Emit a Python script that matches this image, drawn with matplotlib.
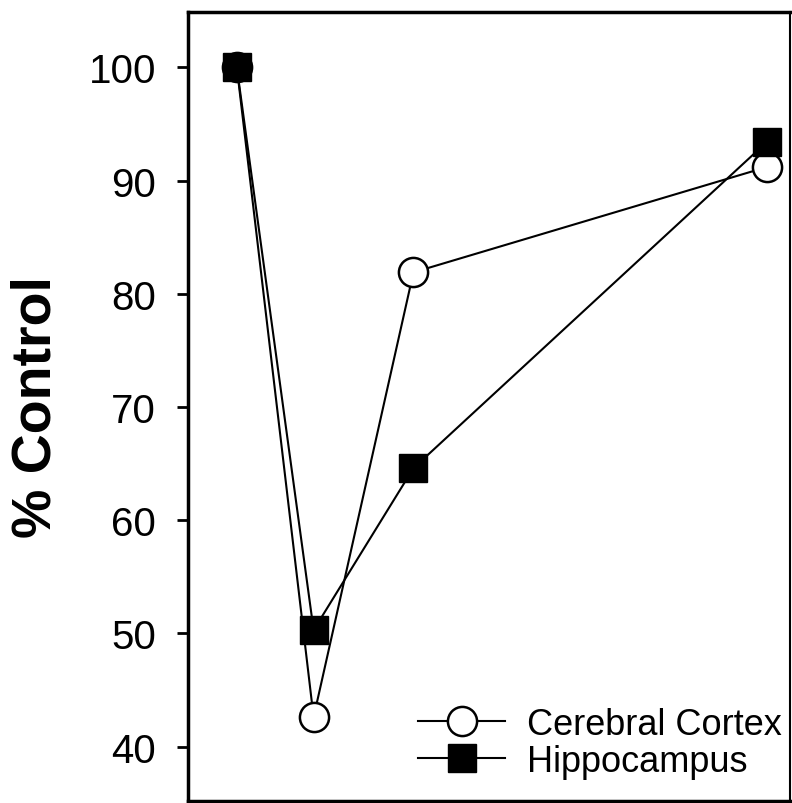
import matplotlib
matplotlib.use("Agg")
import matplotlib.pyplot as plt

time_points = [0, 1, 2.3, 6.9]
cortex = [100, 42.6, 81.9, 91.2]
hippocampus = [100, 50.3, 64.6, 93.4]
yticks = [40, 50, 60, 70, 80, 90, 100]

plt.rcParams['font.family'] = ['Liberation Sans', 'DejaVu Sans']

fig = plt.figure(figsize=(7.92, 8.04), dpi=100)
ax = fig.add_axes([188/792, 1 - 802/804, (792-188)/792 - 0.002, (802-13)/804])

ax.plot(time_points, cortex, color='black', lw=1.5, marker='o', ms=21,
        mfc='white', mec='black', mew=1.8, label='Cerebral Cortex', zorder=3)
ax.plot(time_points, hippocampus, color='black', lw=1.5, marker='s', ms=20,
        mfc='black', mec='black', mew=1.0, label='Hippocampus', zorder=4)

ax.set_xlim(-0.636, 7.21)
ax.set_ylim(35.2, 104.9)
ax.set_xticks([])
ax.set_yticks(yticks)
ax.tick_params(axis='y', direction='out', length=8, width=2, labelsize=29, pad=15)
for s in ['left', 'top', 'bottom']:
    ax.spines[s].set_linewidth(2.5)
ax.spines['right'].set_linewidth(1.5)

ax.set_ylabel('% Control', fontsize=40, fontweight='bold', labelpad=19)

leg = ax.legend(loc='lower right', frameon=False, fontsize=26, handlelength=2.4,
                handletextpad=0.6, labelspacing=0.05, borderaxespad=0.0,
                borderpad=0.0, bbox_to_anchor=(0.985, 0.028))

fig.savefig('out.png', dpi=100)
